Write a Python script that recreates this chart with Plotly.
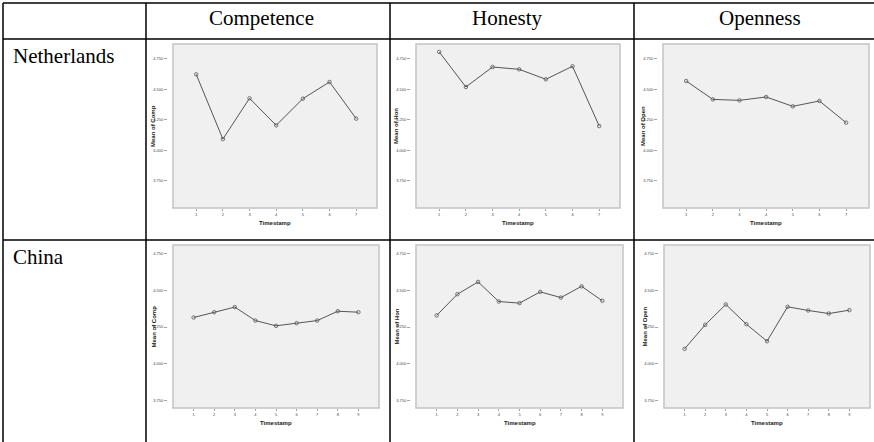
import plotly.graph_objects as go

# ---------------- data ----------------
columns = ["Competence", "Honesty", "Openness"]
rows = ["Netherlands", "China"]
measures = ["Comp", "Hon", "Open"]

nl_time = [1, 2, 3, 4, 5, 6, 7]
cn_time = [1, 2, 3, 4, 5, 6, 7, 8, 9]

nl_comp = [4.624, 4.092, 4.427, 4.205, 4.424, 4.561, 4.260]
nl_hon = [4.808, 4.520, 4.684, 4.665, 4.583, 4.690, 4.199]
nl_open = [4.569, 4.418, 4.410, 4.438, 4.361, 4.405, 4.227]
cn_comp = [4.315, 4.351, 4.386, 4.294, 4.258, 4.276, 4.294, 4.358, 4.351]
cn_hon = [4.329, 4.474, 4.558, 4.424, 4.413, 4.490, 4.451, 4.528, 4.429]
cn_open = [4.101, 4.265, 4.404, 4.269, 4.153, 4.388, 4.363, 4.342, 4.365]

y_ticks = [3.75, 4.0, 4.25, 4.5, 4.75]
y_tick_labels = ["3.750", "4.000", "4.250", "4.500", "4.750"]

# ---------------- layout helpers ----------------
W, H = 874, 442


def px(x):
    return x / W


def py(y):
    return 1 - y / H


panels = [
    # series, times, measure, (left, right), (top, bottom), xrange, yrange
    (nl_comp, nl_time, "Comp", (173, 377), (44, 208), [0.13, 7.78], [3.526, 4.873]),
    (nl_hon, nl_time, "Hon", (416, 620), (44, 208), [0.13, 7.78], [3.526, 4.873]),
    (nl_open, nl_time, "Open", (663, 869), (44, 208), [0.13, 7.86], [3.526, 4.873]),
    (cn_comp, cn_time, "Comp", (173, 379), (245, 408), [0, 10], [3.697, 4.81]),
    (cn_hon, cn_time, "Hon", (416, 623), (245, 408), [0, 10], [3.697, 4.81]),
    (cn_open, cn_time, "Open", (664, 870), (245, 408), [0, 10], [3.697, 4.81]),
]
ytitle_x = [153, 396, 643, 153, 396, 644]

fig = go.Figure()
layout = dict(
    width=W, height=H, margin=dict(l=0, r=0, t=0, b=0),
    paper_bgcolor="white", plot_bgcolor="#f0f0f0", showlegend=False,
    shapes=[], annotations=[],
)

tickfont = dict(family="Arial, Liberation Sans, sans-serif", size=4, color="#444")
for i, (vals, times, meas, (l, r), (t, b), xr, yr) in enumerate(panels):
    n = "" if i == 0 else str(i + 1)
    xa, ya = "x" + n, "y" + n
    fig.add_trace(go.Scatter(
        x=times, y=vals, xaxis=xa, yaxis=ya, mode="lines+markers",
        line=dict(color="#555555", width=1),
        marker=dict(symbol="circle-open", size=3.5, color="#555555", line=dict(width=0.8)),
        hoverinfo="skip",
    ))
    layout["xaxis" + n] = dict(
        domain=[px(l), px(r)], range=xr, anchor=ya, tickvals=times,
        ticks="outside", ticklen=2, tickwidth=0.6, tickcolor="#666",
        tickfont=tickfont, showgrid=False, zeroline=False, showline=False,
        fixedrange=True,
    )
    layout["yaxis" + n] = dict(
        domain=[py(b), py(t)], range=yr, anchor="free", position=px(l - 6),
        tickvals=y_ticks, ticktext=y_tick_labels,
        ticks="outside", ticklen=3, tickwidth=0.6, tickcolor="#666",
        tickfont=tickfont, showgrid=False, zeroline=False, showline=False,
        fixedrange=True,
    )
    layout["shapes"].append(dict(
        type="rect", xref=xa + " domain", yref=ya + " domain",
        x0=0, x1=1, y0=0, y1=1, line=dict(color="#c4c4c4", width=1.5),
    ))
    layout["annotations"].append(dict(
        text="<b>Mean of " + meas + "</b>", textangle=-90, showarrow=False,
        xref="paper", yref="paper", x=px(ytitle_x[i]), y=py((t + b) / 2),
        xanchor="center", yanchor="middle",
        font=dict(family="Arial, Liberation Sans, sans-serif", size=6, color="#222"),
    ))
    layout["annotations"].append(dict(
        text="<b>Timestamp</b>", showarrow=False,
        xref="paper", yref="paper", x=px((l + r) / 2), y=py(b + 15),
        xanchor="center", yanchor="middle",
        font=dict(family="Arial, Liberation Sans, sans-serif", size=6, color="#222"),
    ))

# table lines
black = dict(color="black", width=1.5)
for yy in [3, 39, 240]:
    layout["shapes"].append(dict(type="line", xref="paper", yref="paper",
                                 x0=px(3), x1=1, y0=py(yy), y1=py(yy), line=black))
for xx in [3, 146, 390, 634]:
    layout["shapes"].append(dict(type="line", xref="paper", yref="paper",
                                 x0=px(xx), x1=px(xx), y0=py(3), y1=0, line=black))

serif = dict(family="Liberation Serif, Times New Roman, serif", size=21, color="black")
for name, cx in zip(columns, [261, 507, 760]):
    layout["annotations"].append(dict(
        text=name, showarrow=False, xref="paper", yref="paper",
        x=px(cx), y=py(18), xanchor="center", yanchor="middle", font=serif))
for name, cy in zip(rows, [56, 257]):
    layout["annotations"].append(dict(
        text=name, showarrow=False, xref="paper", yref="paper",
        x=px(11), y=py(cy), xanchor="left", yanchor="middle", font=serif))

fig.update_layout(**layout)
fig.write_html(
    "out.html",
    config={"displayModeBar": False, "staticPlot": True},
    post_script="document.body.style.margin='0';document.body.style.overflow='hidden';",
)
